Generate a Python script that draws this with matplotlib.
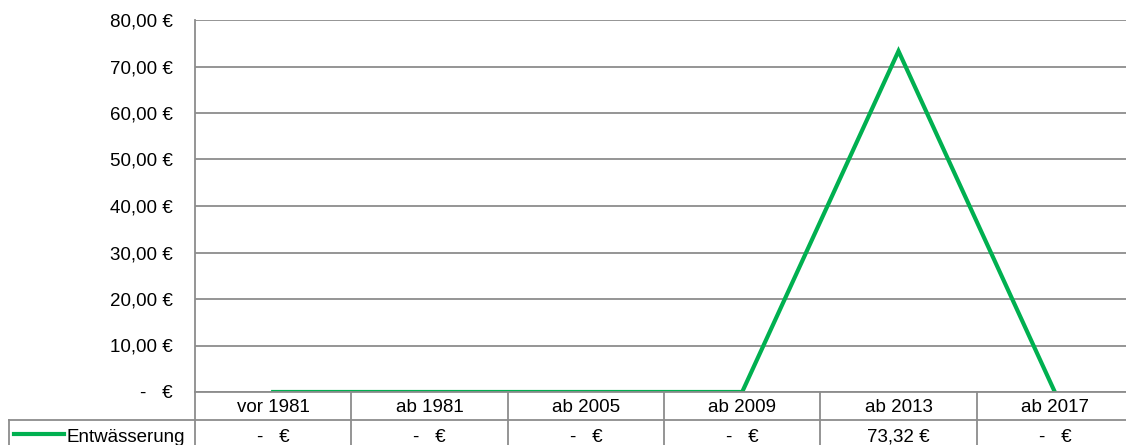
import matplotlib
matplotlib.use('Agg')
import matplotlib.pyplot as plt
import matplotlib.transforms as mtransforms
from matplotlib.lines import Line2D

plt.rcParams['font.family'] = ['Liberation Sans', 'DejaVu Sans']
plt.rcParams['font.size'] = 13.5

categories = ['vor 1981', 'ab 1981', 'ab 2005', 'ab 2009', 'ab 2013', 'ab 2017']
values = [0, 0, 0, 0, 73.32, 0]
series_name = 'Entwässerung'
y_ticks = [0, 10, 20, 30, 40, 50, 60, 70, 80]


def euro(v):
    # Excel Buchhaltungsformat: Null als Strich
    if v == 0:
        return '-   €'
    return f'{v:.2f} €'.replace('.', ',')


W, H = 1126, 445
grey = '#8c8c8c'
green = '#00b050'

fig = plt.figure(figsize=(W / 100, H / 100), dpi=100)
ax = fig.add_axes([195 / W, (H - 392) / H, (1133 - 195) / W, (392 - 20) / H])

ax.plot(range(len(categories)), values, color=green, lw=3, solid_joinstyle='miter')
ax.set_xlim(-0.5, len(categories) - 0.5)
ax.set_ylim(0, 80)
ax.set_xticks([])
ax.set_yticks(y_ticks)
ax.set_yticklabels([euro(v) for v in y_ticks])
ax.tick_params(axis='y', length=0, pad=16)
ax.yaxis.grid(True, color=grey, lw=1.3)
ax.set_axisbelow(True)
for s in ['top', 'right']:
    ax.spines[s].set_visible(False)
for s in ['left', 'bottom']:
    ax.spines[s].set_color(grey)
    ax.spines[s].set_linewidth(1.3)


def fy(py):
    return (H - py) / H


# Datentabelle unter dem Diagramm
trans = mtransforms.blended_transform_factory(ax.transData, fig.transFigure)
for i in range(len(categories) + 1):
    x = i - 0.5
    fig.add_artist(Line2D([x, x], [fy(392), fy(446)], transform=trans,
                          color=grey, lw=1.3))
fig.add_artist(Line2D([9 / W, 1], [fy(420), fy(420)], transform=fig.transFigure,
                      color=grey, lw=1.3))
fig.add_artist(Line2D([9 / W, 9 / W], [fy(420), fy(446)], transform=fig.transFigure,
                      color=grey, lw=1.3))

for i, (c, v) in enumerate(zip(categories, values)):
    fig.text(i, fy(407), c, transform=trans, ha='center', va='center')
    fig.text(i, fy(437), euro(v), transform=trans, ha='center', va='center')

fig.add_artist(Line2D([14 / W, 64 / W], [fy(434), fy(434)], transform=fig.transFigure,
                      color=green, lw=3))
fig.text(67 / W, fy(437), series_name, ha='left', va='center')

fig.savefig('out.png', dpi=100)
